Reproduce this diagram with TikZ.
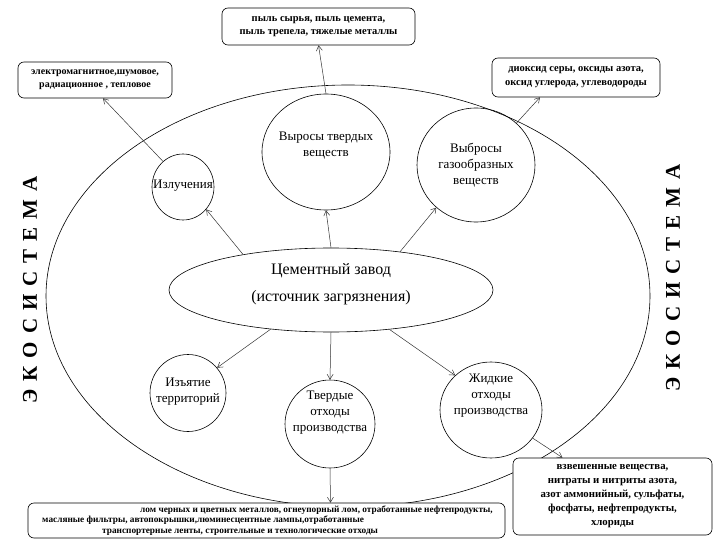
\documentclass[tikz,border=0pt]{standalone}
\usepackage{fontspec}
\setmainfont{Liberation Serif}
\usetikzlibrary{shapes.geometric,arrows.meta}
\tikzset{
  infobox/.style={draw, rounded corners=6pt, inner sep=0pt, align=center, line width=0.6pt},
  blob/.style={draw, ellipse, inner sep=0pt, line width=0.6pt},
  arr/.style={-{Straight Barb[length=5pt,width=6pt]}, line width=0.5pt, draw=black!80},
  circtext/.style={align=center, font=\fontsize{13}{16}\selectfont},
  ecotext/.style={rotate=90, font=\fontsize{21}{22}\selectfont\bfseries},
}
\newcommand{\ls}{\hspace{8pt}}
\begin{document}
\begin{tikzpicture}[x=1pt, y=-1pt]
\useasboundingbox (0,0) rectangle (720,540);
% ecosystem ellipse
\node[blob, minimum width=604pt, minimum height=422pt] (eco) at (348,296) {};
% centre
\node[blob, minimum width=324pt, minimum height=84pt] (c) at (331,290) {};
\node[align=center, font=\fontsize{16}{27}\selectfont] (ct) at (331,284) {Цементный завод\\(источник загрязнения)};
% circles
\node[blob, minimum width=62pt, minimum height=66pt] (izl) at (183,187) {};
\node[circtext] (izlt) at (183,186) {Излучения};
\node[blob, minimum width=128pt, minimum height=116pt] (tv) at (326,152) {};
\node[circtext] (tvt) at (326,146) {Выросы твердых\\веществ};
\node[blob, minimum width=118pt, minimum height=114pt] (gaz) at (476,165) {};
\node[circtext] (gazt) at (476,165) {Выбросы\\газообразных\\веществ};
\node[blob, minimum width=76pt, minimum height=77pt] (izt) at (188,393) {};
\node[circtext] (iztt) at (188,392) {Изъятие\\территорий};
\node[blob, minimum width=90pt, minimum height=88pt] (to) at (330,424) {};
\node[circtext] (tot) at (330,413) {Твердые\\отходы\\производства};
\node[blob, minimum width=102pt, minimum height=96pt] (zh) at (491,410) {};
\node[circtext] (zht) at (491,396) {Жидкие\\отходы\\производства};
% boxes
\node[infobox, minimum width=193pt, minimum height=37pt, font=\fontsize{10.5}{13}\selectfont\bfseries] (tb) at (318.5,26.5) {пыль сырья, пыль цемента,\\пыль трепела, тяжелые металлы};
\node[infobox, minimum width=154pt, minimum height=36pt, font=\fontsize{10}{13}\selectfont\bfseries] (lb) at (95,80) {электромагнитное,шумовое,\\радиационное , тепловое};
\node[infobox, minimum width=168pt, minimum height=39pt, font=\fontsize{10.5}{14}\selectfont\bfseries] (rb) at (576,77.5) {диоксид серы, оксиды азота,\\оксид  углерода, углеводороды};
\node[infobox, minimum width=199pt, minimum height=77pt, font=\fontsize{10.8}{14}\selectfont\bfseries, fill=white] (brb) at (612.5,496.5) {взвешенные вещества,\\нитраты и нитриты азота,\\азот аммонийный, сульфаты,\\фосфаты, нефтепродукты,\\хлориды};
\node[infobox, minimum width=477pt, minimum height=35pt, align=left, font=\fontsize{9.3}{10.6}\selectfont\bfseries, fill=white] (bb) at (266.5,520.5) {\hspace*{100pt}лом черных и цветных металлов,  огнеупорный лом, отработанные нефтепродукты,\\\hspace*{2pt}масляные фильтры, автопокрышки,люминесцентные лампы,отработанные\\\hspace*{62pt}транспортерные ленты, строительные и технологические отходы};
% ecosystem labels
\node[ecotext] (el) at (30,290) {Э\ls К\ls О\ls С\ls И\ls С\ls Т\ls Е\ls М\ls А};
\node[ecotext] (er) at (673,278) {Э\ls К\ls О\ls С\ls И\ls С\ls Т\ls Е\ls М\ls А};
% arrows from centre
\draw[arr] (c.north) -- (tv.south);
\draw[arr] (c.158) -- (izl.-44);
\draw[arr] (c.29) -- (gaz.227);
\draw[arr] (c.213) -- (izt.41);
\draw[arr] (c.south) -- (to.north);
\draw[arr] (c.-34) -- (zh.136);
% arrows to boxes
\draw[arr] (tv.north) -- (tb.south);
\draw[arr] (izl.128) -- ([xshift=8pt]lb.south);
\draw[arr] (gaz.46) -- ([xshift=-36pt]rb.south);
\draw[arr] (zh.-34) -- ([xshift=-50pt]brb.north);
\draw[arr] (to.south) -- ([xshift=64pt]bb.north);
\end{tikzpicture}
\end{document}
